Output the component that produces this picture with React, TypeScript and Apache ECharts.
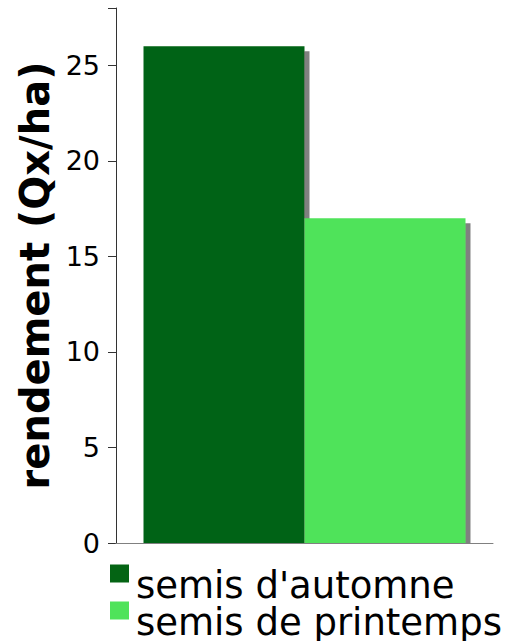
import React, { useEffect, useRef } from "react";
import * as echarts from "echarts";

const categories = [""];
const seriesNames = ["semis d'automne", "semis de printemps"];
const automneValues = [26];
const printempsValues = [17];
const yTicks = [0, 5, 10, 15, 20, 25];
const axisTitle = "rendement (Qx/ha)";
const colors = ["#046414", "#4fe35a"];

export default function App() {
  const ref = useRef<HTMLDivElement>(null);
  useEffect(() => {
    const chart = echarts.init(ref.current!, null, { renderer: "svg" });
    const shadow = {
      shadowColor: "#808080",
      shadowBlur: 0,
      shadowOffsetX: 5,
      shadowOffsetY: 5,
    };
    const legendText = {
      fontSize: 37,
      color: "#000",
      rich: {
        a: {
          fontFamily: "DejaVu Sans",
          fontSize: 37,
          color: "#000",
          lineHeight: 18,
          padding: [24, 0, 0, 2],
        },
      },
    };
    const legendCommon = {
      left: 110,
      itemWidth: 19,
      itemHeight: 18,
      icon: "rect",
      padding: 0,
      textStyle: legendText,
      formatter: (name: string) => `{a|${name}}`,
    };
    chart.setOption({
      animation: false,
      textStyle: { fontFamily: "DejaVu Sans" },
      grid: { left: 116, right: 24, top: 8, bottom: 98, containLabel: false },
      xAxis: {
        type: "category",
        data: categories,
        axisLine: { lineStyle: { color: "#808080", width: 1 } },
        axisTick: { show: false },
        axisLabel: { show: false },
        z: 10,
      },
      yAxis: {
        type: "value",
        min: 0,
        max: 28,
        interval: 5,
        name: axisTitle,
        nameLocation: "middle",
        nameGap: 56,
        nameTextStyle: {
          fontFamily: "DejaVu Sans",
          fontWeight: "bold",
          fontSize: 40,
          color: "#000",
        },
        axisLine: { show: true, lineStyle: { color: "#333", width: 1 } },
        axisTick: { show: true, length: 8, lineStyle: { color: "#333" } },
        axisLabel: {
          fontSize: 27,
          color: "#000",
          margin: 16,
          formatter: (v: number) => (yTicks.includes(v) ? String(v) : ""),
        },
        splitLine: { show: false },
      },
      legend: [
        { ...legendCommon, top: 543, data: [seriesNames[0]] },
        { ...legendCommon, top: 580, data: [seriesNames[1]] },
      ],
      graphic: [
        {
          type: "rect",
          z: 5,
          shape: { x: 120, y: 544, width: 380, height: 8 },
          style: { fill: "#fff" },
        },
      ],
      series: [
        {
          name: seriesNames[0],
          type: "bar",
          data: automneValues,
          barWidth: 161,
          barGap: "0%",
          itemStyle: { color: colors[0], ...shadow },
        },
        {
          name: seriesNames[1],
          type: "bar",
          data: printempsValues,
          barWidth: 161,
          barGap: "0%",
          itemStyle: { color: colors[1], ...shadow },
        },
      ],
    });
    return () => chart.dispose();
  }, []);
  return <div ref={ref} style={{ width: 517, height: 641, position: "absolute", left: 0, top: 0 }} />;
}
